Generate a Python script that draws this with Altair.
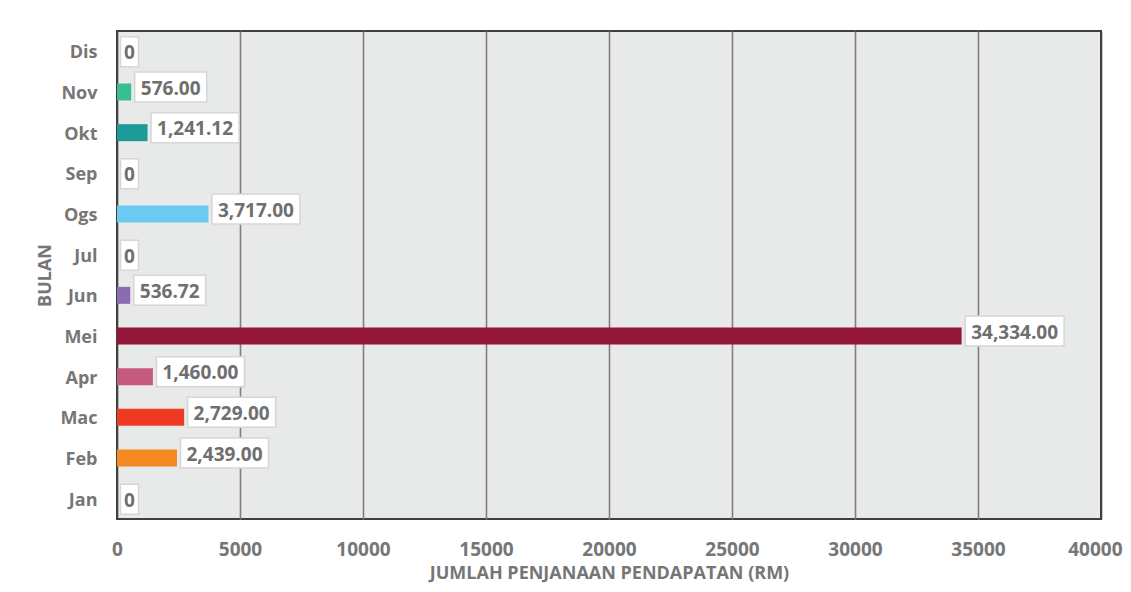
import altair as alt
import pandas as pd

months = ["Jan", "Feb", "Mac", "Apr", "Mei", "Jun", "Jul", "Ogs", "Sep", "Okt", "Nov", "Dis"]
values = [0, 2439.00, 2729.00, 1460.00, 34334.00, 536.72, 0, 3717.00, 0, 1241.12, 576.00, 0]
colors = ["#ffffff", "#f58a22", "#ef3a24", "#c65a7c", "#92173a", "#8b6cb0",
          "#ffffff", "#6bc9f2", "#ffffff", "#1b9a98", "#37bf93", "#ffffff"]
x_ticks = [0, 5000, 10000, 15000, 20000, 25000, 30000, 35000, 40000]

x_title = "JUMLAH PENJANAAN PENDAPATAN (RM)"
y_title = "BULAN"

W, H = 984, 488
XMAX = 40000
UPP = XMAX / W  # data units per pixel


def fmt(v):
    return "0" if v == 0 else f"{v:,.2f}"


labels = [fmt(v) for v in values]
df = pd.DataFrame({"month": months, "value": values, "label": labels, "color": colors})
# approximate label text width in px (digits ~11px, punctuation ~5px at 19px bold)
df["tw"] = df["label"].apply(lambda s: sum(11 if c.isdigit() else 5 for c in s))
df["pad"] = df["value"].apply(lambda v: 7 if v == 0 else 12)

FONT = "Open Sans"
TXT = "#767676"
LAST = "datum.value === 40000"

x_scale = alt.Scale(domain=[0, XMAX], nice=False, zero=True)
x_axis = alt.Axis(values=x_ticks, format="d", title=x_title, grid=True,
                  gridColor={"condition": {"test": "datum.value === 0 || datum.value === 40000",
                                           "value": "#404040"}, "value": "#7f7f7f"},
                  gridWidth=1.6, ticks=False, tickSize=0, domain=False,
                  labelFlush=False, labelOverlap=False, labelBound=False,
                  labelAlign={"condition": {"test": LAST, "value": "right"}, "value": "center"},
                  labelOffset={"condition": {"test": LAST, "value": 21}, "value": 0},
                  labelFontSize=19, labelPadding=21, titleFontSize=18, titlePadding=5)
y_axis = alt.Axis(title=y_title, ticks=False, tickSize=0, domain=False, grid=False,
                  labelFontSize=18, labelPadding=20, labelOffset=2,
                  titleFontSize=18, titlePadding=5)
y_enc = alt.Y("month:N", sort=list(reversed(months)),
              scale=alt.Scale(paddingInner=0, paddingOuter=0), axis=y_axis)

base = alt.Chart(df).transform_calculate(
    x0=f"datum.value + 3.5 * {UPP}",
    x1=f"datum.value + (3.5 + datum.tw + datum.pad) * {UPP}",
    xc=f"datum.value + (3.5 + (datum.tw + datum.pad) / 2) * {UPP}",
)

bars = base.mark_bar(size=17).encode(
    x=alt.X("value:Q", scale=x_scale, axis=x_axis),
    y=y_enc,
    color=alt.Color("color:N", scale=None),
)

box_nz = base.transform_filter("datum.value > 0").mark_bar(
    size=30, fill="white", stroke="#d6d6d6", strokeWidth=1.5, yOffset=-5
).encode(x=alt.X("x0:Q", scale=x_scale, axis=x_axis), x2="x1:Q", y=y_enc)

box_z = base.transform_filter("datum.value == 0").mark_bar(
    size=30, fill="white", stroke="#d6d6d6", strokeWidth=1.5, yOffset=0.5
).encode(x=alt.X("x0:Q", scale=x_scale, axis=x_axis), x2="x1:Q", y=y_enc)

txt_nz = base.transform_filter("datum.value > 0").mark_text(
    font=FONT, fontSize=19, fontWeight="bold", color="#6f6f6f", align="center",
    baseline="middle", dy=-3.5
).encode(x=alt.X("xc:Q", scale=x_scale, axis=x_axis), y=y_enc, text="label:N")

txt_z = base.transform_filter("datum.value == 0").mark_text(
    font=FONT, fontSize=19, fontWeight="bold", color="#6f6f6f", align="center",
    baseline="middle", dy=2
).encode(x=alt.X("xc:Q", scale=x_scale, axis=x_axis), y=y_enc, text="label:N")

chart = alt.layer(bars, box_nz, box_z, txt_nz, txt_z).properties(
    width=W, height=H,
    autosize=alt.AutoSizeParams(type="none"),
    padding={"left": 109, "top": 23, "right": 22, "bottom": 65},
    background="white",
).configure_view(
    fill="#e8e9e9", stroke="#404040", strokeWidth=2
).configure_axis(
    labelFont=FONT, labelFontWeight="bold", labelColor=TXT,
    titleFont=FONT, titleFontWeight="bold", titleColor=TXT,
)

chart.save("out.html", embed_options={"renderer": "svg", "actions": False})
